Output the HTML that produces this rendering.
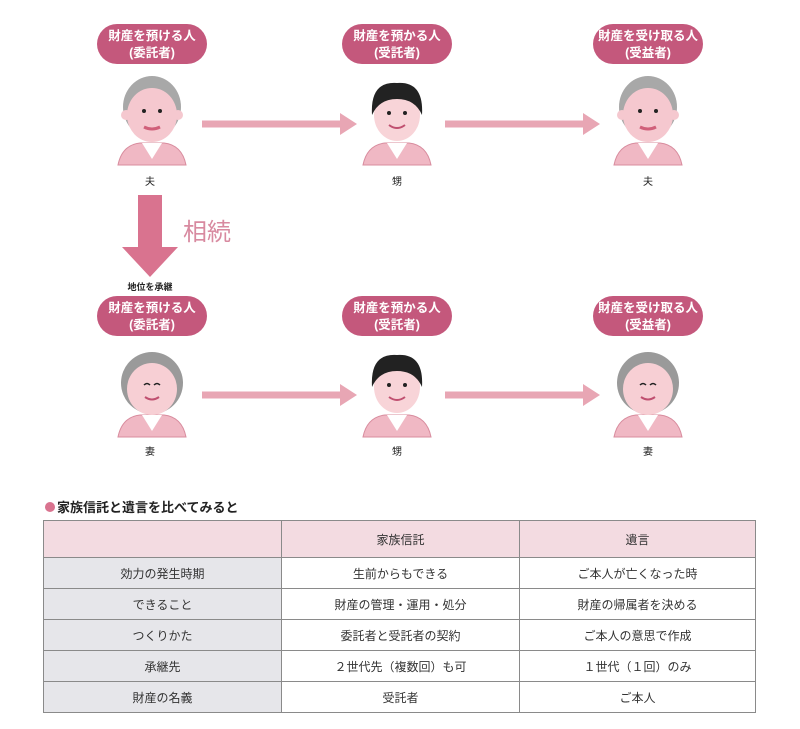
<!DOCTYPE html>
<html><head><meta charset="utf-8"><style>
body{margin:0;background:#fff;width:800px;height:729px;position:relative;overflow:hidden;font-family:"Liberation Sans","Noto Sans CJK JP",sans-serif}
table{position:absolute;left:43px;top:520px;width:713px;border-collapse:collapse;font-size:12px;color:#333}
td{border:1px solid #8a8a8a;text-align:center;height:30px;padding:0}
tr.h td{background:#f3dbe1;height:36px}
td.f{background:#e6e6ea;width:237px}
td.m{width:237px}
</style></head><body>
<svg width="800" height="520" style="position:absolute;left:0;top:0" font-family="Liberation Sans, Noto Sans CJK JP, sans-serif">
<defs>
<g id="pill"><rect x="-55" y="0" width="110" height="40" rx="20" fill="#c4587c"/></g>
<g id="body"><path d="M-34,52 Q-30,32 -12,30 L12,30 Q30,32 34,52 Z" fill="#f0b8c4" stroke="#d88c9e"/><path d="M-10,30 L0,46 L10,30 Z" fill="#fff"/></g>
<g id="old"><use href="#body"/><ellipse cx="0" cy="-6" rx="29" ry="31" fill="#a8a8a8"/><ellipse cx="0" cy="2" rx="25" ry="27" fill="#f5c8cf"/><circle cx="-26" cy="2" r="5" fill="#f5c8cf"/><circle cx="26" cy="2" r="5" fill="#f5c8cf"/><circle cx="-8" cy="-2" r="2" fill="#222"/><circle cx="8" cy="-2" r="2" fill="#222"/><path d="M-8,14 Q0,18 8,14" stroke="#d0607a" stroke-width="3" fill="none"/></g>
<g id="young"><use href="#body"/><ellipse cx="0" cy="2" rx="23" ry="26" fill="#f8d4d8"/><path d="M-25,2 Q-27,-32 0,-30 Q27,-32 25,2 Q18,-14 0,-14 Q-18,-14 -25,2Z" fill="#222"/><circle cx="-8" cy="0" r="2" fill="#222"/><circle cx="8" cy="0" r="2" fill="#222"/><path d="M-8,12 Q0,18 8,12" stroke="#c05070" stroke-width="2" fill="none"/></g>
<g id="wife"><use href="#body"/><ellipse cx="0" cy="-2" rx="31" ry="31" fill="#9a9a9a"/><ellipse cx="0" cy="4" rx="25" ry="26" fill="#f7cfd4"/><path d="M-8,0 q3,-3 6,0 M2,0 q3,-3 6,0" stroke="#222" stroke-width="1.5" fill="none"/><path d="M-7,12 Q0,17 7,12" stroke="#c05070" stroke-width="2" fill="none"/></g>
<g id="harr"><rect x="0" y="-3.5" width="140" height="7" fill="#e8a6b4"/><path d="M138,-11 L155,0 L138,11Z" fill="#e8a6b4"/></g>
</defs>
<g fill="#fff" font-size="12.5" font-weight="bold" text-anchor="middle">
<use href="#pill" x="152" y="24"/><text x="152" y="40">財産を預ける人</text><text x="152" y="57">(委託者)</text>
<use href="#pill" x="397" y="24"/><text x="397" y="40">財産を預かる人</text><text x="397" y="57">(受託者)</text>
<use href="#pill" x="648" y="24"/><text x="648" y="40">財産を受け取る人</text><text x="648" y="57">(受益者)</text>
<use href="#pill" x="152" y="296"/><text x="152" y="312">財産を預ける人</text><text x="152" y="329">(委託者)</text>
<use href="#pill" x="397" y="296"/><text x="397" y="312">財産を預かる人</text><text x="397" y="329">(受託者)</text>
<use href="#pill" x="648" y="296"/><text x="648" y="312">財産を受け取る人</text><text x="648" y="329">(受益者)</text>
</g>
<use href="#old" x="152" y="113"/><use href="#young" x="397" y="113"/><use href="#old" x="648" y="113"/>
<use href="#wife" x="152" y="385"/><use href="#young" x="397" y="385"/><use href="#wife" x="648" y="385"/>
<use href="#harr" x="202" y="124"/><use href="#harr" x="445" y="124"/>
<use href="#harr" x="202" y="395"/><use href="#harr" x="445" y="395"/>
<path d="M138,195 L162,195 L162,247 L178,247 L150,277 L122,247 L138,247Z" fill="#d9738f"/>
<text x="183" y="240" font-size="24" fill="#d88aa0">相続</text>
<g font-size="10" fill="#222" text-anchor="middle"><text x="150" y="185">夫</text><text x="397" y="185">甥</text><text x="648" y="185">夫</text>
<text x="150" y="455">妻</text><text x="397" y="455">甥</text><text x="648" y="455">妻</text>
<text x="150" y="290" font-size="9" font-weight="bold">地位を承継</text></g>
<circle cx="50" cy="507" r="5" fill="#d9738f"/>
<text x="57" y="512" font-size="13" font-weight="bold" fill="#222">家族信託と遺言を比べてみると</text>
</svg>
<table>
<tr class="h"><td class="f" style="background:#f3dbe1"></td><td class="m">家族信託</td><td>遺言</td></tr>
<tr><td class="f">効力の発生時期</td><td>生前からもできる</td><td>ご本人が亡くなった時</td></tr>
<tr><td class="f">できること</td><td>財産の管理・運用・処分</td><td>財産の帰属者を決める</td></tr>
<tr><td class="f">つくりかた</td><td>委託者と受託者の契約</td><td>ご本人の意思で作成</td></tr>
<tr><td class="f">承継先</td><td>２世代先（複数回）も可</td><td>１世代（１回）のみ</td></tr>
<tr><td class="f">財産の名義</td><td>受託者</td><td>ご本人</td></tr>
</table>
</body></html>
